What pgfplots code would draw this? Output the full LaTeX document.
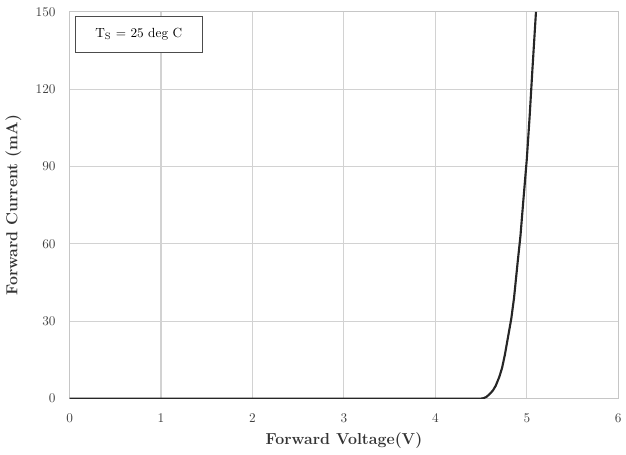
\documentclass[border=0pt]{standalone}
\usepackage{pgfplots}
\pgfplotsset{compat=1.18}
\begin{document}
\begin{tikzpicture}
\begin{axis}[
    scale only axis,
    width=414pt,
    height=291.75pt,
    xmin=0, xmax=6,
    ymin=0, ymax=150,
    xtick={0,1,2,3,4,5,6},
    ytick={0,30,60,90,120,150},
    grid=major,
    major grid style={gray!35, line width=0.8pt},
    axis line style={gray!45, line width=0.8pt},
    major tick length=0pt,
    tick label style={font=\normalsize, text=black!75},
    xticklabel style={yshift=-8pt},
    yticklabel style={xshift=-7pt},
    xlabel={\textbf{Forward Voltage(V)}},
    ylabel={\textbf{Forward Current (mA)}},
    label style={font=\large, text=black!80},
    xlabel style={yshift=-1pt},
    ylabel style={yshift=4pt},
]
\addplot[black!85, line width=1.6pt, line join=round] coordinates {
    (0,0) (4.5,0) (4.53,0.2) (4.56,0.7) (4.6,2) (4.63,3.2) (4.66,5) (4.7,8.5)
    (4.73,12) (4.76,17) (4.8,25) (4.83,31) (4.86,39) (4.9,53) (4.93,63)
    (4.96,76) (5.0,93) (5.03,109) (5.06,127) (5.1,150)
};
\node[draw=black!70, line width=0.9pt, anchor=north west, fill=white,
      minimum width=96pt, minimum height=27pt, inner sep=2pt, font=\normalsize]
    at (rel axis cs:0.009,0.99) {T$_\mathrm{S}$ = 25 deg C};
\end{axis}
\path (current axis.south west) ++(-52.5pt,-42pt) (current axis.north east) ++(3pt,9pt);
\end{tikzpicture}
\end{document}
